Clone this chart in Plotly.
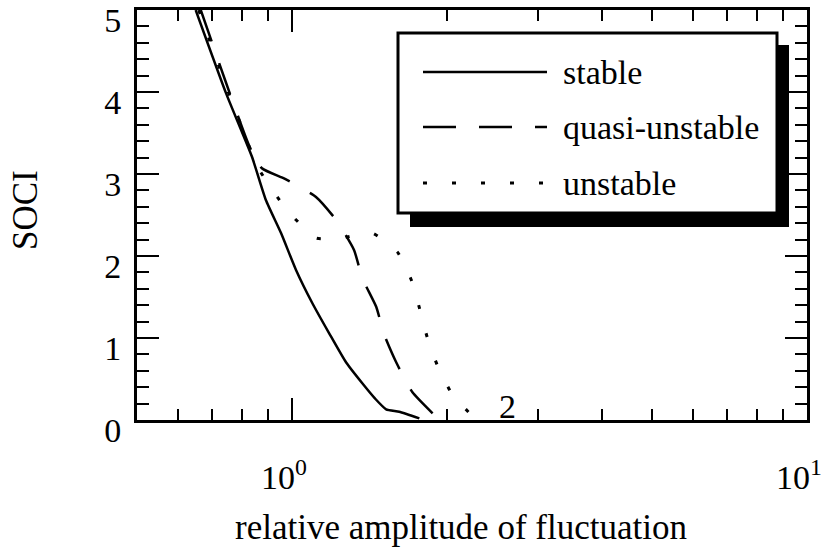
import math
import plotly.graph_objects as go

# ---- data ----
stable_x = [0.650, 0.744, 0.836, 0.890, 0.952, 1.018, 1.094, 1.180, 1.274, 1.368, 1.450, 1.523, 1.615, 1.767]
stable_y = [5.00, 3.99, 3.21, 2.68, 2.28, 1.83, 1.43, 1.06, 0.70, 0.45, 0.26, 0.13, 0.10, 0.02]

quasi_x = [0.665, 0.741, 0.825, 0.874, 0.969, 1.113, 1.218, 1.320, 1.369, 1.457, 1.510, 1.594, 1.712, 1.932]
quasi_y = [5.00, 4.15, 3.35, 3.07, 2.94, 2.72, 2.44, 2.07, 1.73, 1.38, 1.04, 0.70, 0.34, 0.00]

unst_x = [0.659, 0.747, 0.832, 0.870, 0.978, 1.113, 1.251, 1.431, 1.601, 1.704, 1.767, 1.830, 1.914, 2.039, 2.229]
unst_y = [5.00, 4.05, 3.29, 3.02, 2.56, 2.22, 2.22, 2.28, 2.05, 1.71, 1.37, 1.01, 0.67, 0.33, 0.06]

series_names = ["stable", "quasi-unstable", "unstable"]
x_major = [1, 10]
x_major_text = ["10<sup>0</sup>", "10<sup>1</sup>"]
x_minor = [0.6, 0.7, 0.8, 0.9, 2, 3, 4, 5, 6, 7, 8, 9]
y_ticks = [0, 1, 2, 3, 4, 5]
x_title = "relative amplitude of fluctuation"
y_title = "SOCI"
extra_label = "2"
extra_label_pos = (2.62, 0.16)

FONT = "Liberation Serif, Times New Roman, serif"
FS = 34
DASH_Q = "33px,23px"
DASH_U = "4px,25px"

fig = go.Figure()
fig.add_trace(go.Scatter(x=stable_x, y=stable_y, mode="lines", name=series_names[0],
                         line=dict(color="black", width=2.5, shape="spline", smoothing=0.5)))
fig.add_trace(go.Scatter(x=quasi_x, y=quasi_y, mode="lines", name=series_names[1],
                         line=dict(color="black", width=2.5, dash=DASH_Q, shape="spline", smoothing=0.5)))
fig.add_trace(go.Scatter(x=unst_x, y=unst_y, mode="lines", name=series_names[2],
                         line=dict(color="black", width=3, dash=DASH_U, shape="spline", smoothing=0.5)))

# ---- hand-drawn legend with drop shadow (paper coordinates) ----
W, H = 823, 547
L, R, T, B = 137, 16, 10, 127
pw, ph = W - L - R, H - T - B

def px(x):
    return (x - L) / pw

def py(y):
    return (H - B - y) / ph

shapes = [
    dict(type="rect", xref="paper", yref="paper", x0=px(410), x1=px(789), y0=py(227), y1=py(45),
         fillcolor="black", line=dict(width=0), layer="above"),
    dict(type="rect", xref="paper", yref="paper", x0=px(398), x1=px(777), y0=py(213), y1=py(33),
         fillcolor="white", line=dict(color="black", width=3), layer="above"),
]
leg_rows = [72, 127, 183]
leg_dash = ["solid", DASH_Q, DASH_U]
leg_w = [2.5, 2.5, 3]
annotations = []
for name, yy, d, w in zip(series_names, leg_rows, leg_dash, leg_w):
    shapes.append(dict(type="line", xref="paper", yref="paper", x0=px(423), x1=px(547),
                       y0=py(yy), y1=py(yy), line=dict(color="black", width=w, dash=d), layer="above"))
    annotations.append(dict(xref="paper", yref="paper", x=px(561), y=py(yy), text=name,
                            showarrow=False, xanchor="left", yanchor="middle",
                            font=dict(family=FONT, size=FS, color="black")))

annotations.append(dict(x=math.log10(extra_label_pos[0]), y=extra_label_pos[1], xref="x", yref="y",
                        text=extra_label, showarrow=False, xanchor="center", yanchor="middle",
                        font=dict(family=FONT, size=FS, color="black")))

# axis titles as annotations for exact placement
annotations.append(dict(xref="paper", yref="paper", x=px(461), y=py(527), text=x_title,
                        showarrow=False, xanchor="center", yanchor="middle",
                        font=dict(family=FONT, size=35, color="black")))
annotations.append(dict(xref="paper", yref="paper", x=px(25), y=py(210), text=y_title,
                        showarrow=False, xanchor="center", yanchor="middle", textangle=-90,
                        font=dict(family=FONT, size=35, color="black")))

fig.update_layout(
    width=W, height=H,
    margin=dict(l=L, r=R, t=T, b=B, autoexpand=False),
    paper_bgcolor="white", plot_bgcolor="white",
    showlegend=False,
    font=dict(family=FONT, size=FS, color="black"),
    shapes=shapes, annotations=annotations,
)

fig.update_xaxes(
    type="log", range=[-0.30103, 1.0], automargin=False,
    tickvals=x_major, ticktext=x_major_text,
    ticks="inside", ticklen=22, tickwidth=2, tickcolor="black",
    showline=True, linecolor="black", linewidth=3, mirror="allticks",
    showgrid=False, zeroline=False,
    ticklabelstandoff=25, ticklabelshift=-8, ticklabeloverflow="allow",
    minor=dict(tickvals=x_minor, ticks="inside", ticklen=11, tickwidth=2, tickcolor="black", showgrid=False),
    tickfont=dict(family=FONT, size=FS),
)
fig.update_yaxes(
    range=[-0.0005, 5.0005], tickvals=y_ticks, automargin=False,
    ticks="inside", ticklen=22, tickwidth=2, tickcolor="black",
    showline=True, linecolor="black", linewidth=3, mirror="allticks",
    showgrid=False, zeroline=False,
    ticklabelstandoff=6, ticklabelshift=10, ticklabeloverflow="allow",
    minor=dict(tickvals=[v / 5 for v in range(1, 25) if v % 5], ticks="inside", ticklen=12,
               tickwidth=2, tickcolor="black", showgrid=False),
    tickfont=dict(family=FONT, size=FS),
)

fig.write_html("out.html")
